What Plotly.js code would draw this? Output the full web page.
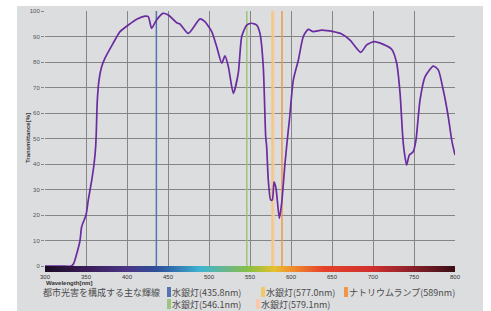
<!DOCTYPE html>
<html><head><meta charset="utf-8">
<script src="https://cdn.plot.ly/plotly-3.0.1.min.js"></script>
<style>html,body{margin:0;padding:0;background:#fff;}#chart{width:491px;height:311px;}</style>
</head><body><div id="chart"></div>
<script>
// Transmittance curve (wavelength nm, transmittance %)
const wavelength = [300,320,332,335,338,342.7,344.7,350,352.8,357,359.8,361.8,362.5,363.8,365.9,369,373,383,391.5,401.6,411.8,422,426,430,436,444,450.4,460.6,464.6,474.8,489,495,503.3,509.4,515.5,519.5,523.6,529.7,535.7,539.9,546,552,558.2,562.2,566.2,569.1,570.3,572.3,575.2,577.2,579.3,581.7,585.8,588.6,592.7,596.7,598,602.8,609,615,621,627,637.4,651.6,661.8,672,685,692.3,701.2,712.6,722.8,728.9,733,736.2,737.8,741,744.3,749,752.4,757.3,763.4,773.6,779.6,785.7,791.8,796,800];
const transmittance = [0,0,0,1,4,10,15.4,20,25.9,33.7,40,46.8,52,65,73,78,81.4,87.3,91.9,94.5,96.8,98,97.8,93.2,96.5,99.1,98.4,95.4,94.9,91.2,96.9,95.8,91.9,86,79.5,82.4,78.2,67.7,75.6,90,94.5,95.2,94.5,91.2,78.2,51,46.8,33.7,25.9,25.9,33,30.5,18.7,24.6,40.3,53.3,57,72.9,80.8,90,92.8,91.9,92.5,91.9,91,88.6,83.8,86.7,88,86.9,85,79.5,67.7,51,45.5,39.6,43.5,44.8,49.4,65,74.2,78.4,76.9,69,58.5,49.4,43.5];

// Main emission lines of urban light pollution
const lineNames = ["水銀灯(435.8nm)","水銀灯(546.1nm)","水銀灯(577.0nm)","水銀灯(579.1nm)","ナトリウムランプ(589nm)"];
const lineWavelengths = [435.8,546.1,577.0,579.1,589];
const lineColors = ["#5574b0","#9cc47a","#f3c86a","#f7c9ad","#f09848"];

const xTicks = [300,350,400,450,500,550,600,650,700,750,800];
const yTicks = [0,10,20,30,40,50,60,70,80,90,100];

const spectrumScale = [[0,"#1c0c24"],[0.1,"#3a1c58"],[0.2,"#4a3686"],[0.27,"#2f4e98"],[0.3,"#2f66a8"],[0.38,"#40b4d0"],[0.44,"#68b68c"],[0.5,"#8cc040"],[0.56,"#e6c030"],[0.6,"#f0902e"],[0.68,"#e4422a"],[0.8,"#d0302e"],[0.9,"#86202a"],[1,"#3a0e14"]];

const traces = [];
// spectrum bar under axis
traces.push({x:[xTicks[0],xTicks[xTicks.length-1],xTicks[xTicks.length-1],xTicks[0],xTicks[0]], y:[0,0,1,1,0], xaxis:'x', yaxis:'y2',
  type:'scatter', mode:'lines', line:{width:0}, fill:'toself',
  fillgradient:{type:'horizontal', colorscale:spectrumScale, start:xTicks[0], stop:xTicks[xTicks.length-1]},
  hoverinfo:'skip', showlegend:false});
// emission lines
lineWavelengths.forEach((w,i)=>{
  traces.push({x:[w,w], y:[yTicks[0],yTicks[yTicks.length-1]], type:'scatter', mode:'lines',
    line:{color:lineColors[i], width:1.5}, hoverinfo:'skip', showlegend:false});
});
traces.push({x:wavelength, y:transmittance, type:'scatter', mode:'lines', line:{color:'#6a2ca0', width:1.7, shape:'spline', smoothing:0.6}, showlegend:false});

const L=45, T=11, W=410, H=255, BAR=6;
const H2 = H + BAR;
const figW=491, figH=311;
const px2x = p => (p-L)/W;
const px2y = p => (T+H2-p)/H2;

const annotations = [];
const lf = {family:'"Noto Sans CJK JP", "Noto Sans", sans-serif', size:9, color:'#4a4a4a'};
annotations.push({xref:'paper', yref:'paper', x:px2x(42), y:px2y(292), xanchor:'left', yanchor:'middle', borderpad:0, text:'都市光害を構成する主な輝線', showarrow:false, font:lf});
const legendPos = [[172,292],[172,304],[266,292],[261,304],[349,292]];
const shapes = [];
lineNames.forEach((n,i)=>{
  const [lx,ly] = legendPos[i];
  shapes.push({type:'rect', xref:'paper', yref:'paper', x0:px2x(lx-5), x1:px2x(lx-1), y0:px2y(ly+5), y1:px2y(ly-5), fillcolor:lineColors[i], line:{width:0}});
  annotations.push({xref:'paper', yref:'paper', x:px2x(lx-1), y:px2y(ly), xanchor:'left', yanchor:'middle', borderpad:0, text:n, showarrow:false, font:lf});
});
annotations.push({xref:'paper', yref:'paper', x:px2x(44), y:px2y(283), xanchor:'left', yanchor:'middle', text:'<b>Wavelength[nm]</b>', showarrow:false, font:{family:'Liberation Sans, Arial, sans-serif', size:6, color:'#333'}});
annotations.push({xref:'paper', yref:'paper', x:px2x(28), y:px2y(138), xanchor:'center', yanchor:'middle', textangle:-90, text:'<b>Transmittance[%]</b>', showarrow:false, font:{family:'Liberation Sans, Arial, sans-serif', size:6, color:'#333'}});

// grey panel
shapes.unshift({type:'rect', xref:'paper', yref:'paper', layer:'below', x0:px2x(17), x1:px2x(483), y0:px2y(figH), y1:px2y(6), fillcolor:'#dcdddf', line:{width:0}});

const layout = {
  width:figW, height:figH,
  margin:{l:L, r:figW-L-W, t:T, b:figH-T-H2, pad:0},
  paper_bgcolor:'#ffffff', plot_bgcolor:'rgba(0,0,0,0)',
  showlegend:false,
  xaxis:{range:[300,800], anchor:'y2', tickvals:xTicks, ticktext:xTicks.map(String), showgrid:true, gridcolor:'#858585', gridwidth:1,
    zeroline:false, showline:false, ticks:'', ticklen:0, tickfont:{family:'Liberation Sans, Arial, sans-serif', size:6, color:'#333'}, ticklabelstandoff:0, fixedrange:true},
  yaxis:{range:[0,100], domain:[BAR/H2,1], tickvals:yTicks, ticktext:yTicks.map(String), showgrid:true, gridcolor:'#858585', gridwidth:1,
    zeroline:false, showline:false, ticks:'outside', ticklen:3, tickcolor:'#858585', tickfont:{family:'Liberation Sans, Arial, sans-serif', size:6, color:'#555'}, fixedrange:true},
  yaxis2:{range:[0,1], domain:[0, BAR/H2], anchor:'x', showgrid:false, zeroline:false, showticklabels:false, ticks:'', fixedrange:true},
  shapes:shapes, annotations:annotations
};
Plotly.newPlot('chart', traces, layout, {displayModeBar:false, staticPlot:true});
</script></body></html>
